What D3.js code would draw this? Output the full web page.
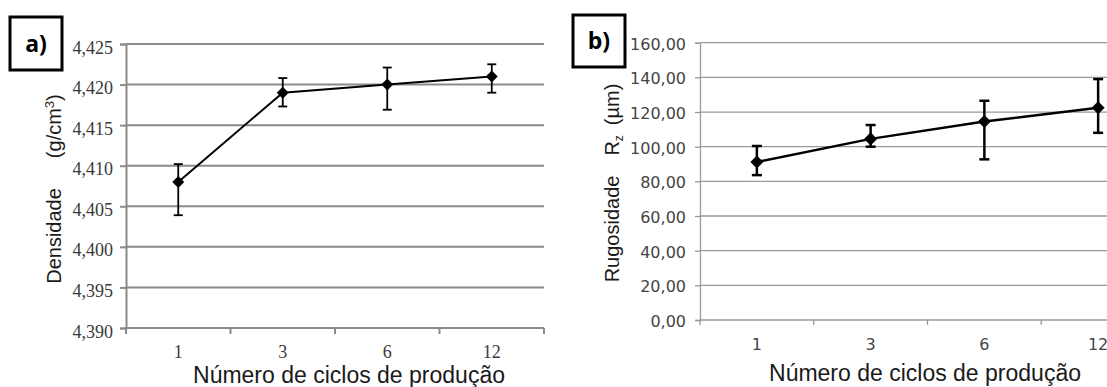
<!DOCTYPE html>
<html>
<head>
<meta charset="utf-8">
<script src="https://cdn.jsdelivr.net/npm/d3@7"></script>
<style>
  html, body { margin: 0; padding: 0; background: #fff; }
  svg { display: block; }
</style>
</head>
<body>
<svg id="chart" width="1107" height="387"></svg>
<script>
// ---------- DATA ----------
const categories = ["1", "3", "6", "12"];

// Panel a) Densidade (g/cm3)
const densValues = [4.408, 4.419, 4.420, 4.421];
const densLow    = [4.4039, 4.4173, 4.4169, 4.4190];
const densHigh   = [4.4102, 4.4208, 4.4221, 4.4225];
const densTicks  = [4.390, 4.395, 4.400, 4.405, 4.410, 4.415, 4.420, 4.425];

// Panel b) Rugosidade Rz (µm)
const rugValues = [91.2, 104.5, 114.5, 122.5];
const rugLow    = [83.6, 100.0, 92.7, 108.0];
const rugHigh   = [100.4, 112.5, 126.5, 139.0];
const rugTicks  = [0, 20, 40, 60, 80, 100, 120, 140, 160];

const xTitle = "Número de ciclos de produção";

// ---------- DRAW ----------
const svg = d3.select("#chart");
svg.append("rect").attr("width", 1107).attr("height", 387).attr("fill", "#fff");

function comma(fmt) {
  const f = d3.format(fmt);
  return v => f(v).replace(".", ",");
}

function panel(cfg) {
  const g = svg.append("g");
  const x = d3.scaleBand().domain(categories).range(cfg.xRange).paddingInner(0).paddingOuter(0);
  const y = d3.scaleLinear().domain(cfg.yDomain).range(cfg.yRange);
  const [x0, x1] = cfg.xRange;

  // gridlines
  g.append("g").selectAll("line")
    .data(cfg.ticks.slice(1))
    .join("line")
    .attr("x1", x0).attr("x2", x1)
    .attr("y1", d => y(d)).attr("y2", d => y(d))
    .attr("stroke", cfg.gridColor).attr("stroke-width", cfg.gridWidth);

  // y axis
  const yAxis = d3.axisLeft(y).tickValues(cfg.ticks).tickFormat(cfg.fmt)
    .tickSize(cfg.tickLen).tickPadding(cfg.yPad);
  const ya = g.append("g").attr("transform", `translate(${x0},0)`).call(yAxis);
  ya.attr("font-family", cfg.tickFont).attr("font-size", cfg.tickSize);
  ya.select(".domain").attr("stroke", cfg.axisColor).attr("stroke-width", cfg.axisWidth);
  ya.selectAll(".tick line").attr("stroke", cfg.axisColor).attr("stroke-width", cfg.axisWidth);
  ya.selectAll(".tick text")
    .style("font-family", cfg.tickFont).style("font-size", cfg.tickSize + "px")
    .attr("fill", cfg.tickColor).attr("dy", cfg.yDy);

  // x axis (domain line + ticks at band boundaries)
  const xa = g.append("g").attr("transform", `translate(0,${cfg.yRange[0]})`);
  xa.append("line").attr("x1", x0).attr("x2", x1).attr("y1", 0).attr("y2", 0)
    .attr("stroke", cfg.axisColor).attr("stroke-width", cfg.axisWidth);
  const bounds = categories.map(c => x(c)).concat([x(categories[categories.length - 1]) + x.bandwidth()]);
  xa.selectAll("line.bt").data(bounds).join("line").attr("class", "bt")
    .attr("x1", d => d).attr("x2", d => d).attr("y1", 0).attr("y2", cfg.tickLen)
    .attr("stroke", cfg.axisColor).attr("stroke-width", cfg.axisWidth);
  g.append("g").selectAll("text").data(categories).join("text")
    .attr("x", d => x(d) + x.bandwidth() / 2)
    .attr("y", cfg.xLabelY)
    .attr("text-anchor", "middle")
    .style("font-family", cfg.tickFont).style("font-size", cfg.tickSize + "px")
    .attr("fill", cfg.tickColor)
    .text(d => d);

  const cx = c => x(c) + x.bandwidth() / 2;

  // error bars
  const eb = g.append("g").attr("stroke", "#000").attr("stroke-width", cfg.ebWidth);
  categories.forEach((c, i) => {
    eb.append("line").attr("x1", cx(c)).attr("x2", cx(c))
      .attr("y1", y(cfg.low[i])).attr("y2", y(cfg.high[i]));
    [cfg.low[i], cfg.high[i]].forEach(v => {
      eb.append("line").attr("x1", cx(c) - cfg.cap / 2).attr("x2", cx(c) + cfg.cap / 2)
        .attr("y1", y(v)).attr("y2", y(v));
    });
  });

  // line
  const line = d3.line().x((d, i) => cx(categories[i])).y(d => y(d));
  g.append("path").datum(cfg.values).attr("d", line)
    .attr("fill", "none").attr("stroke", "#000").attr("stroke-width", cfg.lineWidth);

  // markers (diamonds)
  const sym = d3.symbol(d3.symbolSquare, cfg.markerSize);
  g.selectAll("path.mk").data(cfg.values).join("path").attr("class", "mk")
    .attr("d", sym)
    .attr("transform", (d, i) => `translate(${cx(categories[i])},${y(d)}) rotate(45)`)
    .attr("fill", "#000");

  // x title
  g.append("text").attr("x", cfg.xTitleX).attr("y", cfg.xTitleY)
    .attr("text-anchor", "middle")
    .attr("font-family", "Liberation Sans, Arial, sans-serif").attr("font-size", 23)
    .attr("fill", "#1a1a1a").text(xTitle);

  // y title
  const yt = g.append("text")
    .attr("transform", `translate(${cfg.yTitleX},${cfg.yTitleY}) rotate(-90)`)
    .attr("text-anchor", "middle")
    .attr("font-family", "Liberation Sans, Arial, sans-serif").attr("font-size", 20)
    .attr("fill", "#1a1a1a");
  cfg.yTitle(yt);

  // label box
  g.append("rect").attr("x", cfg.box[0]).attr("y", cfg.box[1])
    .attr("width", cfg.box[2]).attr("height", cfg.box[3])
    .attr("fill", "#fff").attr("stroke", "#000").attr("stroke-width", 3);
  g.append("text").attr("x", cfg.box[0] + cfg.box[2] / 2).attr("y", cfg.box[1] + cfg.box[3] / 2 + 8)
    .attr("text-anchor", "middle")
    .attr("font-family", "Open Sans, Liberation Sans, sans-serif").attr("font-weight", "bold")
    .attr("font-size", 23).attr("fill", "#000").text(cfg.boxLabel);
}

panel({
  xRange: [126, 544], yDomain: [4.390, 4.425], yRange: [328, 44],
  ticks: densTicks, fmt: comma(".3f"),
  values: densValues, low: densLow, high: densHigh,
  gridColor: "#8a8a8a", gridWidth: 2, axisColor: "#8a8a8a", axisWidth: 2,
  tickLen: 6, yPad: 7, yDy: "0.5em",
  tickFont: "'Liberation Serif', 'Times New Roman', serif", tickSize: 18, tickColor: "#3a3a3a",
  xLabelY: 358,
  ebWidth: 1.8, cap: 9, lineWidth: 2, markerSize: 72,
  xTitleX: 349, xTitleY: 383,
  yTitleX: 61, yTitleY: 189,
  yTitle: t => {
    t.append("tspan").text("Densidade\u2003\u2002(g/cm");
    t.append("tspan").attr("font-size", 13).attr("dy", -7).text("3");
    t.append("tspan").attr("dy", 7).text(")");
  },
  box: [10, 17, 52, 53], boxLabel: "a)"
});

panel({
  xRange: [700, 1155], yDomain: [0, 160], yRange: [320, 42.7],
  ticks: rugTicks, fmt: comma(".2f"),
  values: rugValues, low: rugLow, high: rugHigh,
  gridColor: "#9a9a9a", gridWidth: 1.3, axisColor: "#9a9a9a", axisWidth: 1.3,
  tickLen: 5, yPad: 9, yDy: "0.4em",
  tickFont: "'DejaVu Sans', Verdana, sans-serif", tickSize: 16, tickColor: "#444",
  xLabelY: 350,
  ebWidth: 2.5, cap: 10, lineWidth: 2.5, markerSize: 85,
  xTitleX: 925, xTitleY: 381,
  yTitleX: 619, yTitleY: 183,
  yTitle: t => {
    t.append("tspan").text("Rugosidade\u2002\u2002R");
    t.append("tspan").attr("font-size", 12).attr("dy", 4).text("z");
    t.append("tspan").attr("dy", -4).text("\u2002(\u00b5m)");
  },
  box: [573, 15, 52, 52], boxLabel: "b)"
});
</script>
</body>
</html>
